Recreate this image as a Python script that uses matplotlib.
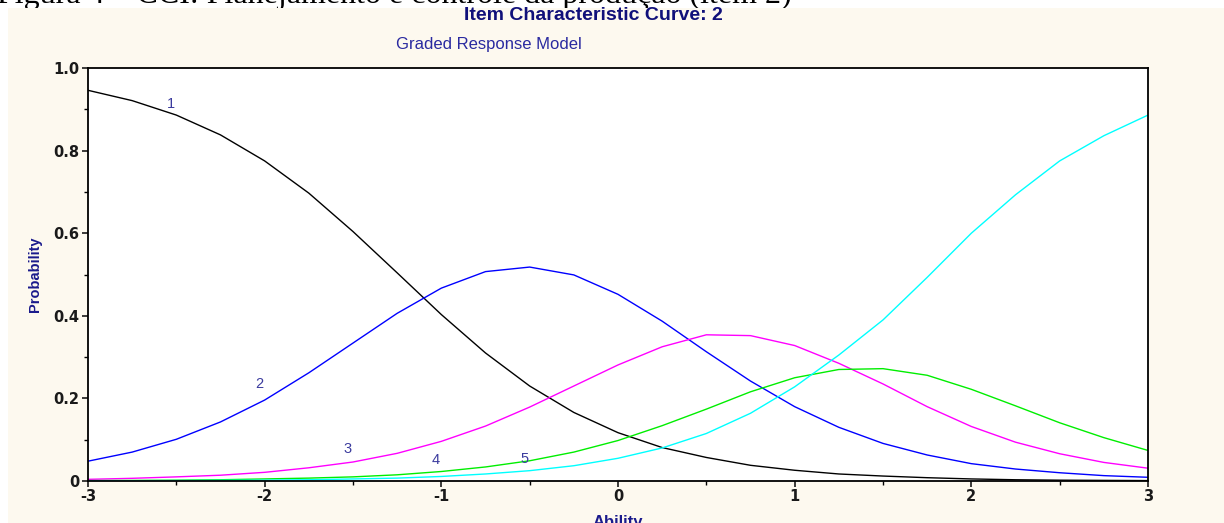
import numpy as np
import matplotlib
matplotlib.use('Agg')
import matplotlib.pyplot as plt
from matplotlib.patches import Rectangle
from matplotlib.ticker import FixedLocator

# habilidade (theta) e probabilidades de cada categoria de resposta
theta = [-3.0, -2.75, -2.5, -2.25, -2.0, -1.75, -1.5, -1.25, -1.0, -0.75, -0.5, -0.25,
         0.0, 0.25, 0.5, 0.75, 1.0, 1.25, 1.5, 1.75, 2.0, 2.25, 2.5, 2.75, 3.0]

cat1 = [0.946, 0.921, 0.886, 0.838, 0.775, 0.697, 0.604, 0.504, 0.403, 0.310, 0.230, 0.166,
        0.117, 0.081, 0.057, 0.038, 0.026, 0.017, 0.012, 0.008, 0.005, 0.003, 0.002, 0.0015, 0.001]
cat2 = [0.048, 0.070, 0.101, 0.143, 0.196, 0.262, 0.334, 0.406, 0.467, 0.507, 0.518, 0.499,
        0.452, 0.387, 0.313, 0.242, 0.180, 0.130, 0.091, 0.063, 0.042, 0.029, 0.020, 0.013, 0.009]
cat3 = [0.004, 0.0065, 0.010, 0.014, 0.021, 0.032, 0.046, 0.067, 0.096, 0.133, 0.179, 0.230,
        0.281, 0.325, 0.354, 0.352, 0.328, 0.285, 0.235, 0.180, 0.132, 0.094, 0.066, 0.045, 0.031]
cat4 = [0.001, 0.0014, 0.002, 0.003, 0.005, 0.007, 0.010, 0.015, 0.023, 0.034, 0.049, 0.070,
        0.098, 0.134, 0.174, 0.216, 0.250, 0.270, 0.272, 0.256, 0.222, 0.182, 0.141, 0.105, 0.074]
cat5 = [0.0004, 0.0007, 0.001, 0.0015, 0.002, 0.003, 0.005, 0.007, 0.011, 0.017, 0.025, 0.037,
        0.055, 0.080, 0.115, 0.164, 0.228, 0.305, 0.390, 0.493, 0.600, 0.693, 0.775, 0.836, 0.886]

curvas = [cat1, cat2, cat3, cat4, cat5]
cores = ['#000000', '#0000ff', '#ff00ff', '#00ee00', '#00ffff']
rotulos = ['1', '2', '3', '4', '5']
# posicao dos numeros de cada curva
rot_x = [-2.53, -2.03, -1.53, -1.03, -0.53]
rot_y = [0.913, 0.235, 0.077, 0.051, 0.053]

xticks = [-3, -2, -1, 0, 1, 2, 3]
yticks = [0, 0.2, 0.4, 0.6, 0.8, 1.0]
ytick_txt = ['0', '0.2', '0.4', '0.6', '0.8', '1.0']

W, H = 1224, 523
fig = plt.figure(figsize=(W / 100, H / 100), dpi=100, facecolor='white')

# legenda da figura cortada no topo
fig.text(-3 / W, 1 - 3 / H, 'Figura 4 – CCI: Planejamento e controle da produção (item 2)',
         family='Liberation Serif', fontsize=23, color='black', va='baseline', ha='left', zorder=-3)
# fundo creme do grafico
fig.patches.append(Rectangle((8 / W, 0), 1, 1 - 8 / H, transform=fig.transFigure,
                             facecolor='#fdf9ef', edgecolor='none', zorder=-2))

ax = fig.add_axes([88 / W, 42 / H, (1148 - 88) / W, (481 - 68) / H])
ax.set_facecolor('white')

for y, c in zip(curvas, cores):
    ax.plot(theta, y, color=c, lw=1.0)

for t, xx, yy in zip(rotulos, rot_x, rot_y):
    ax.text(xx, yy, t, color='#3b3b9e', fontsize=10.5, family='Liberation Sans',
            ha='center', va='center')

ax.set_xlim(-3, 3)
ax.set_ylim(0, 1)
ax.xaxis.set_major_locator(FixedLocator(xticks))
ax.xaxis.set_minor_locator(FixedLocator(np.arange(-2.5, 3, 1.0)))
ax.yaxis.set_major_locator(FixedLocator(yticks))
ax.yaxis.set_minor_locator(FixedLocator(np.arange(0.1, 1.0, 0.2)))
ax.set_yticklabels(ytick_txt)
ax.set_xticklabels([str(v) for v in xticks])

for s in ax.spines.values():
    s.set_linewidth(1.3)
    s.set_color('black')
ax.tick_params(which='major', length=4, width=1.2, pad=2, labelsize=10.5, colors='#1a1a1a')
ax.tick_params(which='minor', length=3, width=1.0)
for lb in ax.get_xticklabels() + ax.get_yticklabels():
    lb.set_fontweight('bold')

ax.set_ylabel('Probability', fontsize=10.5, fontweight='bold', color='#1a1a8c', labelpad=8,
              family='Liberation Sans')
ax.set_xlabel('Ability', fontsize=12, fontweight='bold', color='#1a1a8c', labelpad=8,
              family='Liberation Sans')

fig.text(593 / W, 1 - 16 / H, 'Item Characteristic Curve: 2', ha='center', va='center',
         fontsize=14, fontweight='bold', color='#10107a', family='Liberation Sans')
fig.text(489 / W, 1 - 45 / H, 'Graded Response Model', ha='center', va='center',
         fontsize=12, color='#2a2aa0', family='Liberation Sans')

fig.savefig('out.png', dpi=100, facecolor=fig.get_facecolor())
